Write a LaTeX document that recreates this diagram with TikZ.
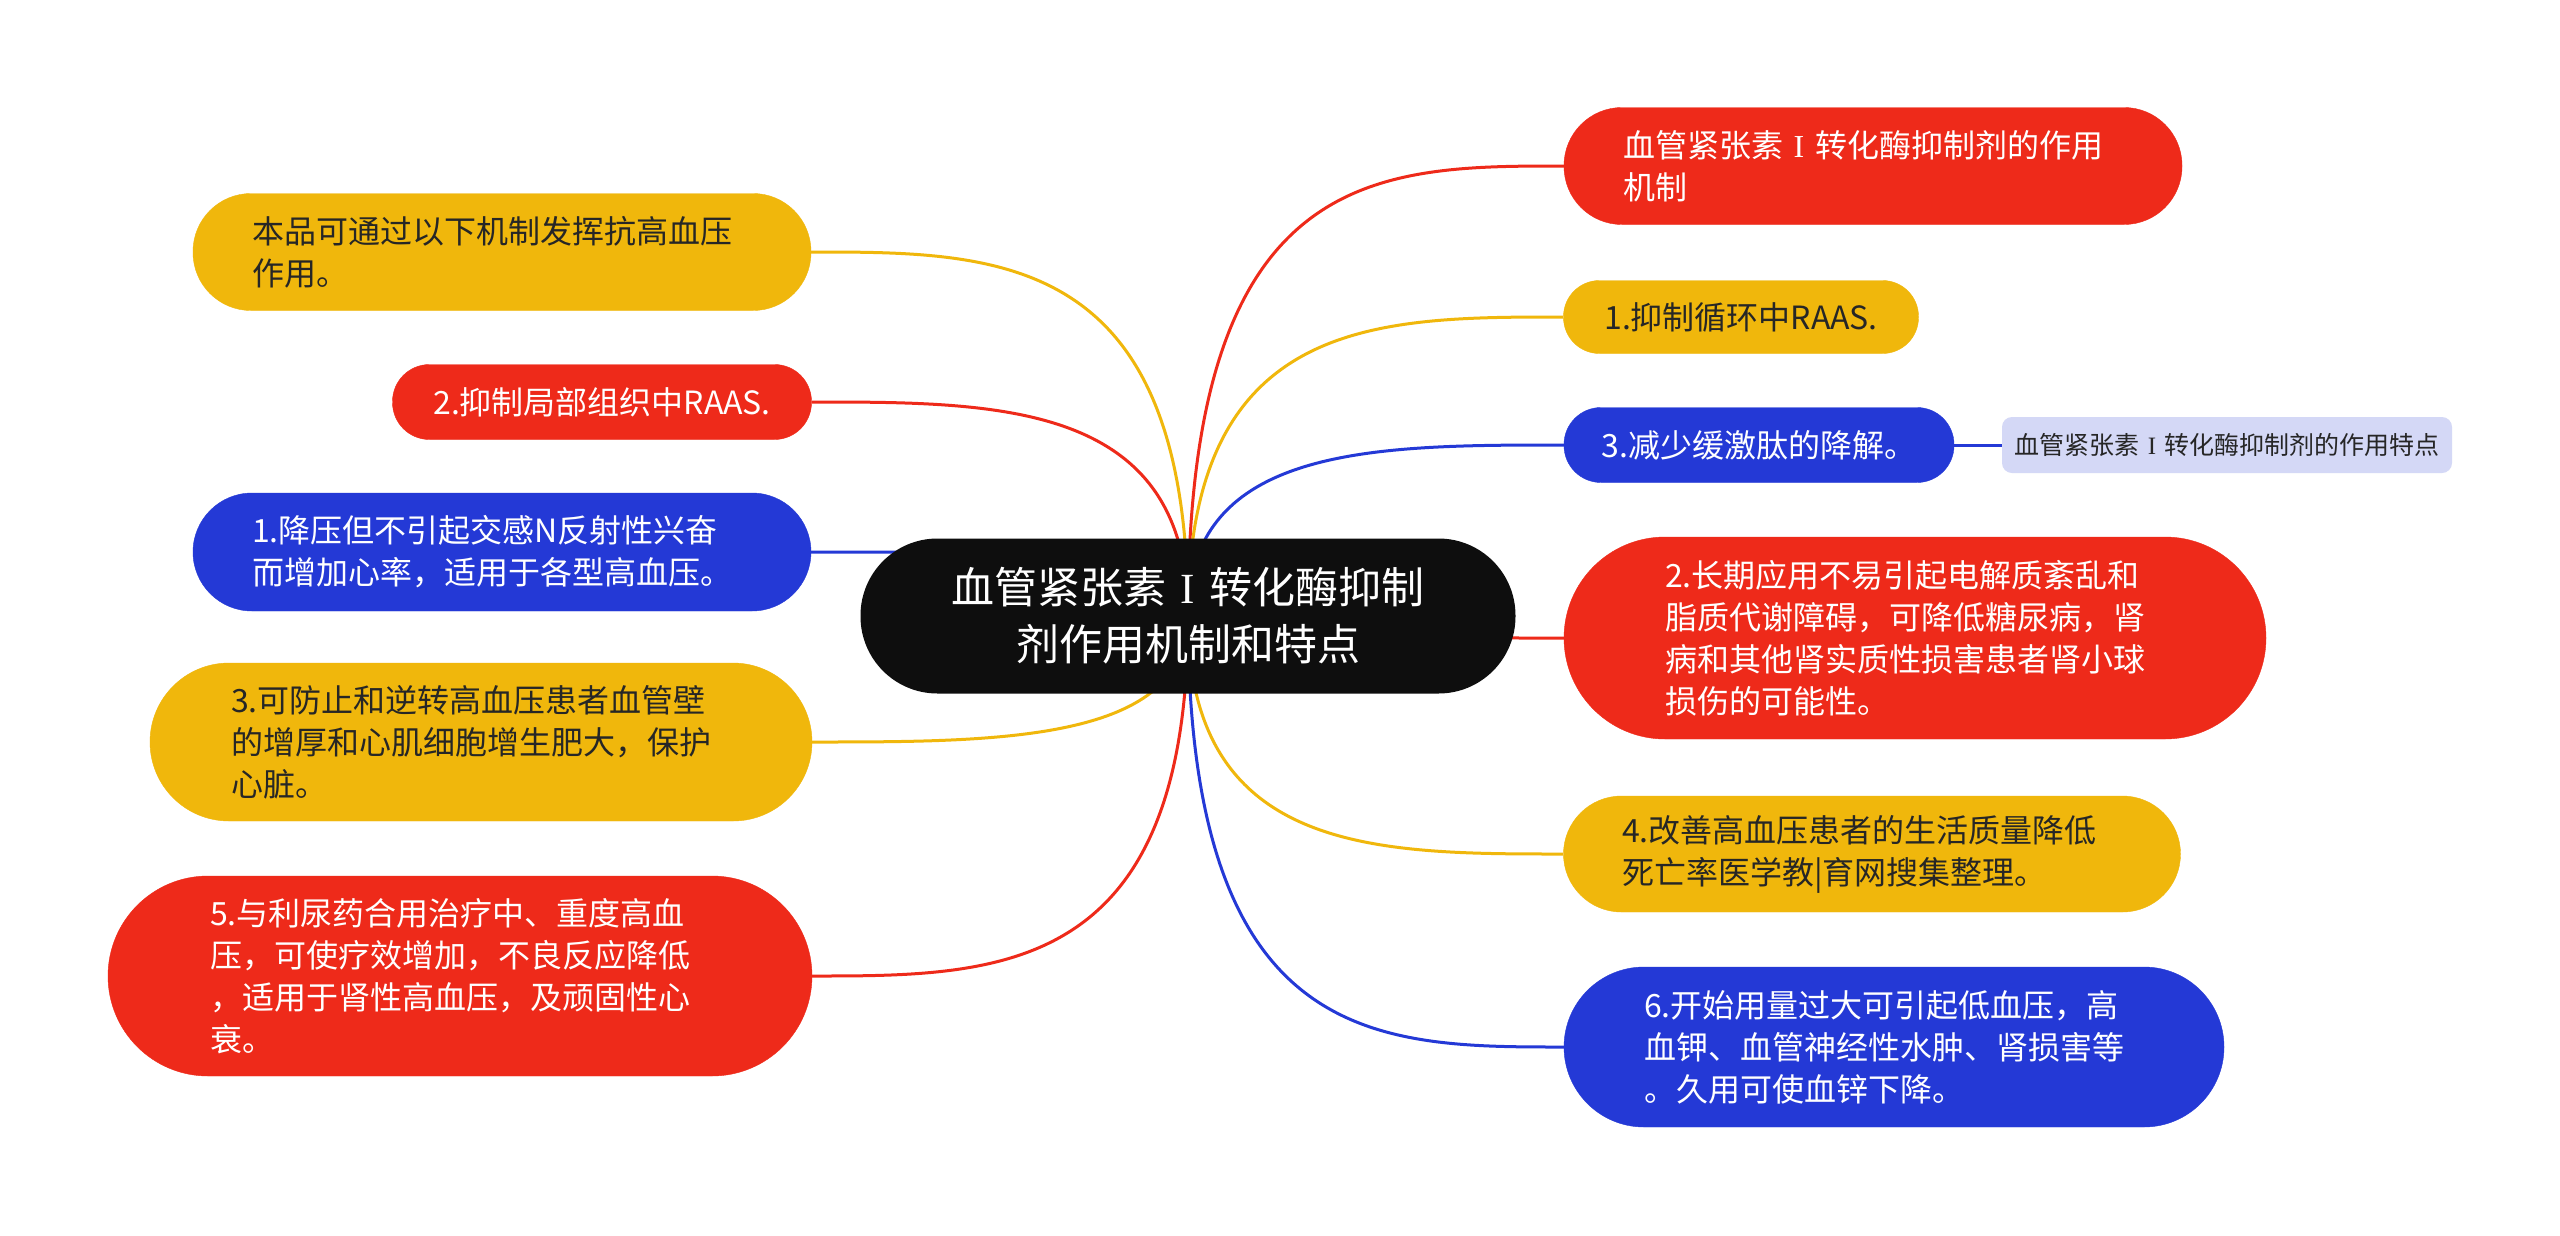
\documentclass[tikz,border=0pt]{standalone}
\usepackage{fontspec}
\setmainfont{Noto Sans CJK SC}
\newfontfamily\serifI{Liberation Serif}
\newcommand{\RomI}{\makebox[1em]{\serifI I}}
\usetikzlibrary{calc,backgrounds}
\definecolor{cred}{HTML}{EE2A1A}
\definecolor{cyel}{HTML}{F0B70C}
\definecolor{cblu}{HTML}{2439D6}
\definecolor{cblk}{HTML}{0E0E0E}
\definecolor{clav}{HTML}{D4D8F6}
\definecolor{ctxt}{HTML}{262626}
\begin{document}
\begin{tikzpicture}[x=1pt,y=-1pt,
  mnode/.style={rectangle, font=\fontsize{32}{42}\selectfont, align=left, text width=500pt, inner ysep=0pt},
  snode/.style={rectangle, font=\fontsize{32}{42}\selectfont, align=center, inner sep=0pt},
  redbox/.style={fill=cred, draw=cred, text=white},
  yelbox/.style={fill=cyel, draw=cyel, text=ctxt},
  blubox/.style={fill=cblu, draw=cblu, text=white},
  edge/.style={line width=3pt}
]
\useasboundingbox (0,0) rectangle (2560,1235);

% central node
\node[rectangle, fill=cblk, text=white, minimum width=655pt, minimum height=155pt,
      rounded corners=77pt, font=\fontsize{43}{57}\selectfont, align=center, inner sep=0pt]
  (C) at (1188,616) {血管紧张素\RomI 转化酶抑制\\剂作用机制和特点};

% left nodes
\node[mnode, yelbox, minimum width=618pt, minimum height=117pt, rounded corners=58pt, inner xsep=59pt]
  (L1) at (502,252) {本品可通过以下机制发挥抗高血压\\作用。};
\node[snode, redbox, minimum width=419pt, minimum height=75pt, rounded corners=37pt]
  (L2) at (602,402) {2.抑制局部组织中RAAS.};
\node[mnode, blubox, minimum width=618pt, minimum height=118pt, rounded corners=59pt, inner xsep=59pt]
  (L3) at (502,552) {1.降压但不引起交感N反射性兴奋\\而增加心率，适用于各型高血压。};
\node[mnode, yelbox, minimum width=662pt, minimum height=158pt, rounded corners=79pt, inner xsep=81pt]
  (L4) at (481,742) {3.可防止和逆转高血压患者血管壁\\的增厚和心肌细胞增生肥大，保护\\心脏。};
\node[mnode, redbox, minimum width=704pt, minimum height=200pt, rounded corners=100pt, inner xsep=102pt]
  (L5) at (460,976) {5.与利尿药合用治疗中、重度高血\\压，可使疗效增加，不良反应降低\\，适用于肾性高血压，及顽固性心\\衰。};

% right nodes
\node[mnode, redbox, minimum width=618pt, minimum height=117pt, rounded corners=58pt, inner xsep=59pt]
  (R1) at (1873,166) {血管紧张素\RomI 转化酶抑制剂的作用\\机制};
\node[snode, yelbox, minimum width=355pt, minimum height=73pt, rounded corners=36pt]
  (R2) at (1741,317) {1.抑制循环中RAAS.};
\node[snode, blubox, minimum width=390pt, minimum height=75pt, rounded corners=37pt]
  (R3) at (1759,445) {3.减少缓激肽的降解。};
\node[rectangle, fill=clav, text=ctxt, minimum width=450pt, minimum height=56pt, rounded corners=10pt,
      font=\fontsize{25}{30}\selectfont, inner sep=0pt]
  (LB) at (2227,445) {血管紧张素\RomI 转化酶抑制剂的作用特点};
\node[mnode, redbox, minimum width=702pt, minimum height=202pt, rounded corners=101pt, inner xsep=101pt]
  (R4) at (1915,638) {2.长期应用不易引起电解质紊乱和\\脂质代谢障碍，可降低糖尿病，肾\\病和其他肾实质性损害患者肾小球\\损伤的可能性。};
\node[mnode, yelbox, minimum width=617pt, minimum height=116pt, rounded corners=58pt, inner xsep=58pt]
  (R5) at (1872,854) {4.改善高血压患者的生活质量降低\\死亡率医学教|育网搜集整理。};
\node[mnode, blubox, minimum width=660pt, minimum height=160pt, rounded corners=80pt, inner xsep=80pt]
  (R6) at (1894,1047) {6.开始用量过大可引起低血压，高\\血钾、血管神经性水肿、肾损害等\\。久用可使血锌下降。};

\begin{scope}[on background layer]
  \fill[white] (0,0) rectangle (2560,1235);
  \foreach \n/\col in {L1/cyel, L2/cred, L3/cblu, L4/cyel, L5/cred}{
    \draw[edge, \col] (C.center) .. controls (C.center |- \n.east) and ($(C.center |- \n.east)!0.5!(\n.east)$) .. (\n.east);
  }
  \foreach \n/\col in {R1/cred, R2/cyel, R3/cblu, R4/cred, R5/cyel, R6/cblu}{
    \draw[edge, \col] (C.center) .. controls (C.center |- \n.west) and ($(C.center |- \n.west)!0.5!(\n.west)$) .. (\n.west);
  }
  \draw[edge, cblu] (R3.east) -- (LB.west);
\end{scope}
\end{tikzpicture}
\end{document}
